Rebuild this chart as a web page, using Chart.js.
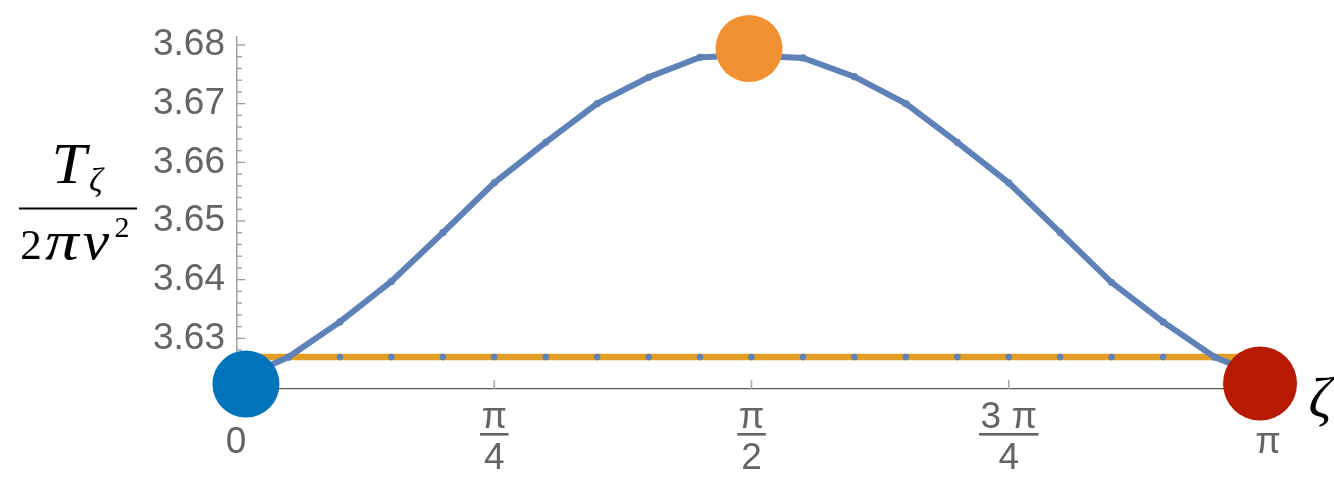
<!DOCTYPE html>
<html>
<head>
<meta charset="utf-8">
<script src="https://cdn.jsdelivr.net/npm/chart.js@4.4.1/dist/chart.umd.min.js"></script>
<style>
  html, body { margin: 0; padding: 0; background: #ffffff; }
  #wrap { width: 1334px; height: 477px; position: relative; }
</style>
</head>
<body>
<div id="wrap"><canvas id="chart"></canvas></div>
<script>
// ζ sample grid, in units of π
const zetaOverPi = [0, 0.05, 0.10, 0.15, 0.20, 0.25, 0.30, 0.35, 0.40, 0.45, 0.50,
                    0.55, 0.60, 0.65, 0.70, 0.75, 0.80, 0.85, 0.90, 0.95, 1.00];

// T_ζ / (2π v²) along the interpolating family
const tensionCurve = [3.6229, 3.6268, 3.6328, 3.6397, 3.6480, 3.6565, 3.6634, 3.6700, 3.6745, 3.6779, 3.6782,
                      3.6778, 3.6746, 3.6700, 3.6634, 3.6565, 3.6480, 3.6395, 3.6328, 3.6268, 3.6233];

// reference level (flat line)
const tensionFlat = [3.6268, 3.6268, 3.6268, 3.6268, 3.6268, 3.6268, 3.6268, 3.6268, 3.6268, 3.6268, 3.6268,
                     3.6268, 3.6268, 3.6268, 3.6268, 3.6268, 3.6268, 3.6268, 3.6268, 3.6268, 3.6268];

// highlighted configurations
const markerZetaOverPi = [0.0087, 0.4976, 0.9942];
const markerTension   = [3.6222, 3.6794, 3.6223];

// axis ticks and labels
const yMajorTicks = [3.63, 3.64, 3.65, 3.66, 3.67, 3.68];
const yTickLabels = ['3.63', '3.64', '3.65', '3.66', '3.67', '3.68'];
const yMinorTicks = [3.622, 3.624, 3.626, 3.628, 3.632, 3.634, 3.636, 3.638, 3.642, 3.644, 3.646, 3.648,
                     3.652, 3.654, 3.656, 3.658, 3.662, 3.664, 3.666, 3.668, 3.672, 3.674, 3.676, 3.678];
const xTickValuesOverPi = [0, 0.25, 0.5, 0.75, 1];
const xTickNumerators   = ['0', 'π', 'π', '3 π', 'π'];
const xTickDenominators = ['', '4', '2', '4', ''];
const xInnerTicksOverPi = [0.25, 0.5, 0.75];

// styling
const curveColor = '#5e82b8';
const flatColor = '#e39e26';
const markerColors = ['#0073bb', '#f29131', '#b71a00'];
const markerRadii = [33.5, 33.5, 37];
const labelColor = '#646464';

const toXY = (xs, ys) => xs.map((v, i) => ({ x: v * Math.PI, y: ys[i] }));

// draws one glyph centred at cx, optionally stretched horizontally
function glyph(ctx, text, font, cx, baseline, stretch) {
  ctx.save();
  ctx.font = font;
  ctx.textAlign = 'center';
  ctx.textBaseline = 'alphabetic';
  ctx.translate(cx, baseline);
  ctx.scale(stretch, 1);
  ctx.fillText(text, 0, 0);
  ctx.restore();
}

const decor = {
  id: 'decor',
  beforeDatasetsDraw(chart) {
    const { ctx, scales: { x, y } } = chart;
    ctx.save();
    ctx.strokeStyle = '#9a9a9a';
    ctx.lineWidth = 1.3;
    const left = x.left;
    const drawYTick = (v, len) => {
      const py = y.getPixelForValue(v);
      ctx.beginPath();
      ctx.moveTo(left, py);
      ctx.lineTo(left + len, py);
      ctx.stroke();
    };
    yMajorTicks.forEach(v => drawYTick(v, 8));
    yMinorTicks.forEach(v => drawYTick(v, 5));
    ctx.strokeStyle = '#aaaaaa';
    ctx.lineWidth = 1.6;
    const bottom = y.bottom;
    xInnerTicksOverPi.forEach(v => {
      const px = x.getPixelForValue(v * Math.PI);
      ctx.beginPath();
      ctx.moveTo(px, bottom);
      ctx.lineTo(px, bottom - 9);
      ctx.stroke();
    });
    ctx.restore();
  },
  afterDraw(chart) {
    const { ctx, scales: { x } } = chart;
    ctx.save();

    // ζ tick labels
    ctx.fillStyle = labelColor;
    ctx.font = '37px "Liberation Sans", Arial, sans-serif';
    ctx.textAlign = 'center';
    ctx.textBaseline = 'middle';
    xTickValuesOverPi.forEach((v, i) => {
      const px = x.getPixelForValue(v * Math.PI);
      const num = xTickNumerators[i];
      const den = xTickDenominators[i];
      if (den) {
        ctx.fillText(num, px, 418);
        const w = Math.max(ctx.measureText(num).width, ctx.measureText(den).width) + 3;
        ctx.fillRect(px - w / 2, 433, w, 2.6);
        ctx.fillText(den, px, 459);
      } else {
        ctx.fillText(num, px + (v === 0 ? -1 : 2), 443);
      }
    });

    // ζ axis name
    ctx.fillStyle = '#000000';
    glyph(ctx, 'ζ', 'italic 57px "Liberation Serif", serif', 1320, 417, 1.0);

    // vertical axis name: T_ζ over 2πv²
    glyph(ctx, 'T', 'italic 57px "Liberation Serif", serif', 69, 183, 1.1);
    glyph(ctx, 'ζ', 'italic 34px "Liberation Serif", serif', 96, 191, 1.0);
    ctx.fillRect(19, 207.5, 118, 2);
    glyph(ctx, '2', '43px "Liberation Serif", serif', 31, 259, 1.0);
    glyph(ctx, 'π', 'italic 54px "Liberation Serif", serif', 62, 259, 1.25);
    glyph(ctx, 'v', 'italic 54px "Liberation Serif", serif', 96, 259, 1.1);
    glyph(ctx, '2', '30px "Liberation Serif", serif', 122, 237, 1.0);

    ctx.restore();
  }
};

Chart.defaults.font.family = '"Liberation Sans", Arial, sans-serif';

new Chart(document.getElementById('chart'), {
  type: 'line',
  data: {
    datasets: [
      {
        label: 'highlighted',
        data: toXY(markerZetaOverPi, markerTension),
        showLine: false,
        pointRadius: markerRadii,
        pointBackgroundColor: markerColors,
        pointBorderWidth: 0,
        clip: false,
        order: 0
      },
      {
        label: 'flat samples',
        data: toXY(zetaOverPi, tensionFlat),
        showLine: false,
        pointRadius: 3.3,
        pointBackgroundColor: curveColor,
        pointBorderWidth: 0,
        order: 1
      },
      {
        label: 'tension',
        data: toXY(zetaOverPi, tensionCurve),
        borderColor: curveColor,
        borderWidth: 6,
        pointRadius: 3.6,
        pointBackgroundColor: curveColor,
        pointBorderWidth: 0,
        tension: 0,
        order: 2
      },
      {
        label: 'flat',
        data: toXY(zetaOverPi, tensionFlat),
        borderColor: flatColor,
        borderWidth: 6.5,
        pointRadius: 0,
        tension: 0,
        order: 3
      }
    ]
  },
  options: {
    responsive: true,
    maintainAspectRatio: false,
    animation: false,
    events: [],
    layout: { padding: { left: 0, right: 68, top: 35, bottom: 0 } },
    plugins: { legend: { display: false }, tooltip: { enabled: false } },
    scales: {
      x: {
        type: 'linear',
        min: 0,
        max: Math.PI,
        grid: { display: false },
        border: { display: true, color: '#5a5a5a', width: 1.2 },
        ticks: { display: false },
        afterFit(scale) { scale.height = 88; }
      },
      y: {
        type: 'linear',
        min: 3.62136,
        max: 3.68136,
        grid: { display: false, drawTicks: false },
        border: { display: true, color: '#a0a0a0', width: 1.5 },
        afterBuildTicks(scale) { scale.ticks = yMajorTicks.map(v => ({ value: v })); },
        ticks: {
          autoSkip: false,
          padding: 12,
          color: labelColor,
          font: { size: 37 },
          callback: (value, index) => yTickLabels[index]
        },
        afterFit(scale) { scale.width = 237; }
      }
    }
  },
  plugins: [decor]
});
</script>
</body>
</html>
